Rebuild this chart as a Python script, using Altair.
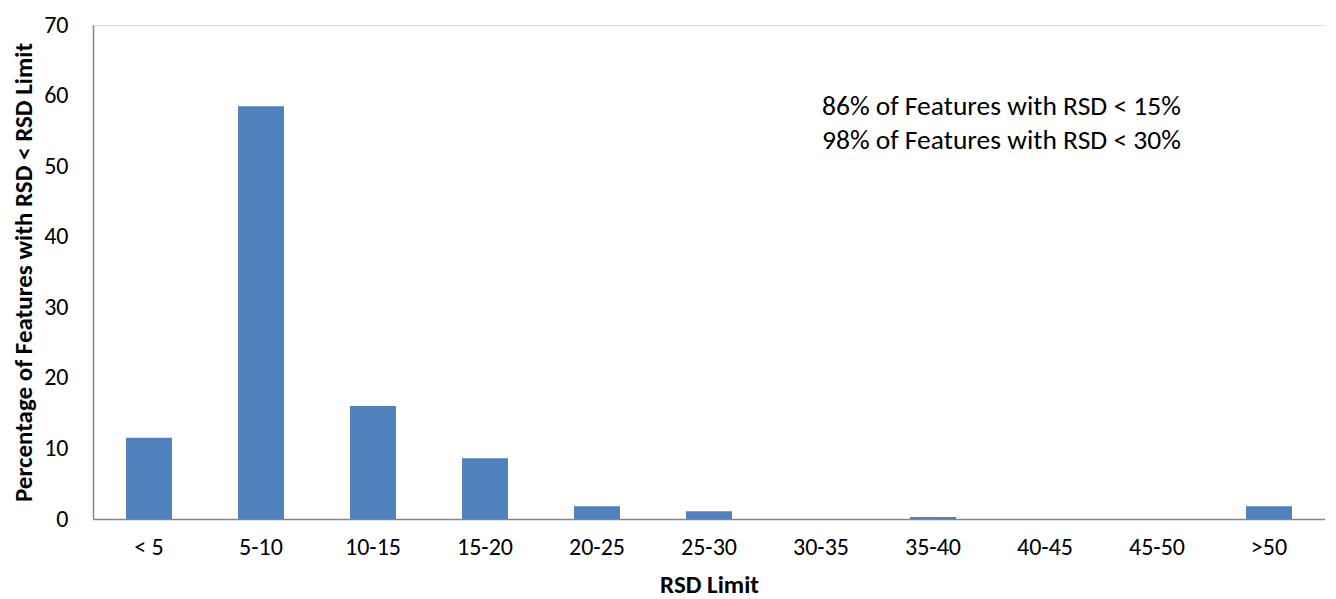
import altair as alt
import pandas as pd

categories = ["< 5", "5-10", "10-15", "15-20", "20-25", "25-30", "30-35", "35-40", "40-45", "45-50", ">50"]
percentages = [11.5, 58.5, 16.0, 8.6, 1.8, 1.1, 0.0, 0.3, 0.0, 0.0, 1.8]
notes = ["86% of Features with RSD < 15%", "98% of Features with RSD < 30%"]

df = pd.DataFrame({"cat": categories, "pct": percentages})
FONT = "Carlito, Calibri, Lato, sans-serif"

bars = alt.Chart(df).mark_bar(color="#4F81BD").encode(
    x=alt.X("cat:N", sort=categories,
            scale=alt.Scale(paddingInner=0.59, paddingOuter=0.295),
            axis=alt.Axis(title="RSD Limit", labelAngle=0, ticks=False,
                          domainColor="#868686", domainWidth=1.5,
                          labelFont=FONT, labelFontSize=24, labelColor="#000000",
                          labelPadding=16, titleFont=FONT, titleFontSize=25,
                          titleFontWeight="bold", titleColor="#000000", titlePadding=13)),
    y=alt.Y("pct:Q", scale=alt.Scale(domain=[0, 70]),
            axis=alt.Axis(title="Percentage of Features with RSD < RSD Limit",
                          values=[0, 10, 20, 30, 40, 50, 60, 70], grid=False, ticks=False,
                          domainColor="#868686", domainWidth=1.5,
                          labelFont=FONT, labelFontSize=24, labelColor="#000000",
                          labelPadding=25, titleFont=FONT, titleFontSize=25,
                          titleFontWeight="bold", titleColor="#000000", titlePadding=7)),
)

note_df = pd.DataFrame({"txt": notes, "row": [0, 1]})
text = alt.Chart(note_df).mark_text(align="left", baseline="middle", font=FONT,
                                     fontSize=27.5, color="#000000").encode(
    x=alt.value(729),
    y=alt.Y("row:O", axis=None, scale=alt.Scale(range=[82, 116], padding=0)),
    text="txt:N",
)

chart = alt.layer(bars, text).resolve_scale(y="independent").properties(
    width=1232, height=494,
    autosize=alt.AutoSizeParams(type="none"),
    padding={"left": 85, "top": 17, "right": 0, "bottom": 80},
).configure_view(stroke=None).configure(background="#ffffff")

chart.save("out.html", embed_options={"renderer": "svg", "actions": False})
